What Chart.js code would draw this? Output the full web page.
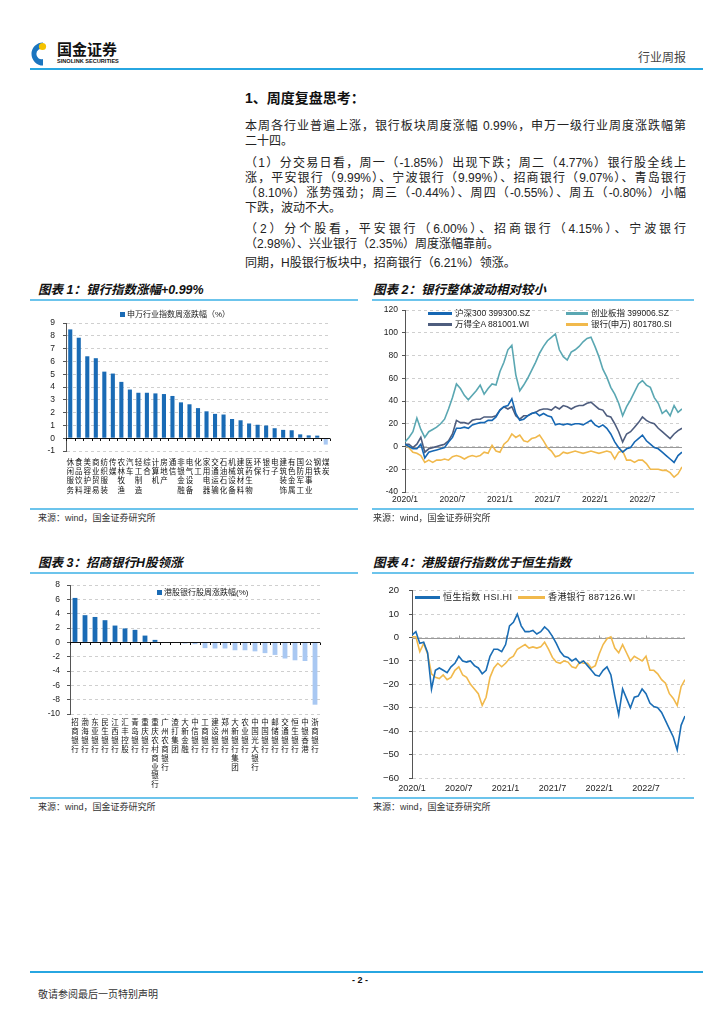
<!DOCTYPE html>
<html>
<head>
<meta charset="utf-8">
<script src="https://cdn.jsdelivr.net/npm/chart.js@4.4.1/dist/chart.umd.min.js"></script>
<style>
body{margin:0;width:724px;height:1024px;background:#fff;position:relative;overflow:hidden;
  font-family:"Liberation Sans","Noto Sans CJK SC",sans-serif;color:#222}
.abs{position:absolute;white-space:nowrap}
.bar{position:absolute;height:2px;background:#6cc4ec}
.ct{position:absolute;font-size:12.5px;line-height:14px;font-weight:bold;font-style:italic;white-space:nowrap;color:#111}
.src{position:absolute;font-size:9px;line-height:10px;color:#333;white-space:nowrap}
.p{position:absolute;left:245px;width:441px;font-size:12px;line-height:14px;color:#222}
.j{text-align:justify;text-align-last:justify}
canvas{position:absolute}
.lg{position:absolute;font-size:8.5px;line-height:10px;white-space:nowrap;color:#222}
.sw{position:absolute}
</style>
</head>
<body>

<!-- 页眉 -->
<svg class="abs" style="left:27px;top:40px" width="22" height="28" viewBox="0 0 22 28">
  <path d="M16 2.5 A11.5 11.5 0 1 0 16 25.5 L16 19 A5.2 5.2 0 1 1 16 9 Z" fill="#1b75bf"/>
  <circle cx="15.5" cy="6.5" r="3.6" fill="#f4c200"/>
</svg>
<div class="abs" style="left:57px;top:41px;font-size:15px;line-height:16px;font-weight:bold;color:#111;font-family:'Noto Sans CJK SC'">国金证券</div>
<div class="abs" style="left:57px;top:58px;font-size:5.6px;line-height:6px;font-weight:bold;color:#111">SINOLINK SECURITIES</div>
<div class="abs" style="right:38px;top:51px;font-size:12px;line-height:14px;color:#444">行业周报</div>
<div class="abs" style="left:30px;top:68px;width:673px;height:1.5px;background:#27a6e1"></div>

<!-- 正文 -->
<div class="abs" style="left:245px;top:90px;font-size:14px;line-height:16px;font-weight:bold;color:#111">1、周度复盘思考：</div>
<div class="p j" style="top:119px">本周各行业普遍上涨，银行板块周度涨幅 0.99%，申万一级行业周度涨跌幅第</div>
<div class="p" style="top:134px">二十四。</div>
<div class="p j" style="top:156px">（1）分交易日看，周一（-1.85%）出现下跌；周二（4.77%）银行股全线上</div>
<div class="p j" style="top:171px">涨，平安银行（9.99%）、宁波银行（9.99%）、招商银行（9.07%）、青岛银行</div>
<div class="p j" style="top:186px">（8.10%）涨势强劲；周三（-0.44%）、周四（-0.55%）、周五（-0.80%）小幅</div>
<div class="p" style="top:201px">下跌，波动不大。</div>
<div class="p j" style="top:222px">（2）分个股看，平安银行（6.00%）、招商银行（4.15%）、宁波银行</div>
<div class="p" style="top:237px">（2.98%）、兴业银行（2.35%）周度涨幅靠前。</div>
<div class="p" style="top:256px">同期，H股银行板块中，招商银行（6.21%）领涨。</div>

<!-- 图表1 -->
<div class="ct" style="left:38px;top:283px">图表 1：银行指数涨幅+0.99%</div>
<div class="bar" style="left:30px;top:299px;width:328px"></div>
<canvas id="c1" width="328" height="200" style="left:30px;top:305px"></canvas>
<div class="sw" style="left:120px;top:312px;width:5px;height:5px;background:#1a6bb5"></div>
<div class="lg" style="left:127px;top:310px;font-size:8px">申万行业指数周涨跌幅（%）</div>
<div class="bar" style="left:30px;top:508px;width:328px"></div>
<div class="src" style="left:38px;top:513px">来源：wind，国金证券研究所</div>

<!-- 图表2 -->
<div class="ct" style="left:373px;top:283px">图表 2：银行整体波动相对较小</div>
<div class="bar" style="left:372px;top:299px;width:322px"></div>
<canvas id="c2" width="330" height="210" style="left:365px;top:300px"></canvas>
<div class="sw" style="left:428px;top:312px;width:24px;height:2.5px;background:#1667b3"></div>
<div class="lg" style="left:455px;top:308px">沪深300 399300.SZ</div>
<div class="sw" style="left:566px;top:312px;width:22px;height:2.5px;background:#5aa7b2"></div>
<div class="lg" style="left:591px;top:308px">创业板指 399006.SZ</div>
<div class="sw" style="left:428px;top:323px;width:24px;height:2.5px;background:#4e5d7e"></div>
<div class="lg" style="left:455px;top:319px">万得全A 881001.WI</div>
<div class="sw" style="left:566px;top:323px;width:22px;height:2.5px;background:#f1b94c"></div>
<div class="lg" style="left:591px;top:319px">银行(申万) 801780.SI</div>
<div class="bar" style="left:372px;top:508px;width:322px"></div>
<div class="src" style="left:373px;top:513px">来源：wind，国金证券研究所</div>

<!-- 图表3 -->
<div class="ct" style="left:38px;top:556px">图表 3：招商银行H股领涨</div>
<div class="bar" style="left:30px;top:572px;width:328px"></div>
<canvas id="c3" width="328" height="222" style="left:30px;top:573px"></canvas>
<div class="sw" style="left:157px;top:590px;width:5px;height:5px;background:#1a6bb5"></div>
<div class="lg" style="left:164px;top:588px;font-size:8px">港股银行股周涨跌幅(%)</div>
<div class="bar" style="left:30px;top:797px;width:328px"></div>
<div class="src" style="left:38px;top:802px">来源：wind，国金证券研究所</div>

<!-- 图表4 -->
<div class="ct" style="left:373px;top:556px">图表 4：港股银行指数优于恒生指数</div>
<div class="bar" style="left:372px;top:572px;width:322px"></div>
<canvas id="c4" width="330" height="222" style="left:365px;top:575px"></canvas>
<div class="sw" style="left:415px;top:596px;width:25px;height:2.5px;background:#1a6db5"></div>
<div class="lg" style="left:443px;top:592px;font-size:9px;letter-spacing:0.4px">恒生指数 HSI.HI</div>
<div class="sw" style="left:518px;top:596px;width:27px;height:2.5px;background:#f1b94c"></div>
<div class="lg" style="left:548px;top:592px;font-size:9px;letter-spacing:0.4px">香港银行 887126.WI</div>
<div class="bar" style="left:372px;top:797px;width:322px"></div>
<div class="src" style="left:373px;top:802px">来源：wind，国金证券研究所</div>

<!-- 页脚 -->
<div class="abs" style="left:30px;top:971px;width:673px;height:1.5px;background:#27a6e1"></div>
<div class="abs" style="left:352px;top:975px;font-size:9px;line-height:10px;font-weight:bold;color:#111">- 2 -</div>
<div class="abs" style="left:38px;top:989px;font-size:10px;line-height:12px;color:#333">敬请参阅最后一页特别声明</div>

<script>
// 图表1：申万一级行业周涨跌幅
const swCats = ['休闲服务','食品饮料','美容护理','商业贸易','纺织服装','传媒','农林牧渔','汽车','轻工制造','综合',
  '计算机','房地产','通信','非银金融','电气设备','化工','家用电器','交通运输','石油石化','机械设备',
  '建筑材料','医药生物','环保','银行','电子','建筑装饰','有色金属','国防军工','公用事业','钢铁','煤炭'];
const swVals = [8.5,7.85,6.4,6.25,5.2,5.05,4.4,3.8,3.55,3.55,3.5,3.45,3.3,2.8,2.65,2.35,2.1,1.9,1.85,1.5,
  1.4,1.15,1.05,0.99,0.78,0.65,0.62,0.3,0.22,0.2,-0.5];

// 图表3：港股银行股周涨跌幅
const hkCats = ['招商银行','渤海银行','东亚银行','民生银行','江西银行','汇丰控股','青岛银行','重庆银行','重庆农村商业银行',
  '广州农商银行','渣打集团','大新金融','中信银行','工商银行','建设银行','郑州银行','大新银行集团','农业银行',
  '中国光大银行','中国银行','邮储银行','交通银行','恒生银行','中银香港','浙商银行'];
const hkVals = [6.21,3.8,3.55,3.1,2.35,1.95,1.75,0.95,0.35,0,-0.05,-0.15,-0.25,-0.8,-0.85,-0.85,-1.1,-1.1,
  -1.25,-1.5,-1.75,-2.25,-2.5,-2.6,-8.7];

// 时间轴：2020/1 起，每半个月一个点（单位：月）
const halfMonths = [];
for (let i = 0; i <= 70; i++) halfMonths.push(i / 2);

// 图表2：累计涨跌幅（%）
const hs300 = [2,0,-2,-2,2,-10,-5,-4,-3,-2, -1,4,8,16,16,17,16,19,20,21, 21,23,23,26,32,35,36,42,29,23,
  24,27,29,30,27,29,27,26,19,20, 19,20,19,20,20,19,21,23,19,17, 19,16,11,4,-1,-5,-2,-1,4,7,
  10,5,2,-1,-2,-5,-8,-11,-14,-8, -5];
const cyb = [4,8,13,25,15,8,13,15,17,20, 24,33,43,55,51,45,41,45,49,54, 46,51,55,54,66,74,85,89,63,49,
  54,60,67,74,82,88,93,96,99,85, 79,76,83,85,88,92,95,96,88,79, 68,61,52,46,38,27,35,41,48,55,
  58,54,52,43,38,29,32,27,36,30, 33];
const windA = [2,2,-1,2,8,-5,-2,-1,0,1, 2,5,11,23,21,21,20,23,24,24, 26,26,26,27,32,35,33,35,27,24,
  27,27,29,30,32,33,33,32,35,33, 36,35,33,35,36,36,38,39,36,33, 32,27,26,20,13,4,11,13,17,21,
  26,23,21,20,16,13,10,7,11,14, 16];
const bankSW = [2,-1,-5,-6,-8,-14,-12,-14,-12,-12, -11,-12,-9,-8,-9,-11,-9,-8,-9,-8, -5,-6,1,-4,-5,2,5,11,8,10,
  5,4,7,8,10,5,-1,-4,-9,-8, -5,-6,-5,-4,-5,-6,-5,-4,-5,-6, -5,-4,-5,-11,-5,-4,-12,-12,-14,-12,
  -12,-15,-20,-20,-20,-21,-21,-23,-27,-24, -18];

// 图表4：累计涨跌幅（%）
const hsi = [1,2.5,-2.5,-2,-6.5,-22,-14,-13,-14,-15, -12.5,-11,-8,-10,-10.5,-10,-12,-13,-15.5,-14,
  -8,-5,-5,-6,-3,5,6.5,10,5,2.5, 2.5,3,1.5,2.5,4.5,3,0.5,-2.5,-6,-8, -8.5,-10,-9,-11,-10,-12,-14,-16,-16.5,-14,
  -12.5,-16,-25,-33,-22,-26,-30,-25.5,-25,-22, -24,-28,-29.5,-30,-32,-35.5,-39,-42.5,-48,-37.5, -33.5];
const hkBank = [0.3,0.3,-6,-2.5,-7,-15.5,-17,-17.5,-16,-18, -17,-14,-12.5,-16,-17,-20,-22,-24,-29,-25.5,
  -17,-13,-11,-12.5,-11,-9,-8,-5,-4,-3, -4.5,-4,-4.5,-4,-2,-5,-8.5,-10.5,-11,-10, -10.5,-12.5,-13,-10.5,-11,-11,-13,-12,-7,-3,
  -0.5,0.3,-4.5,-6.5,-3,-6.5,-10,-8,-9,-10, -8,-14,-14,-15.5,-18,-19.5,-24,-26,-29,-21, -18];

const DARK = '#1a6bb5', LIGHT = '#a9c8f2';
const numFont = {family: 'Liberation Sans', size: 8.5};

// 零轴实线 + 小刻度
function drawZero(chart, o) {
  const {ctx, chartArea: a, scales: {x, y}} = chart;
  const py = Math.round(y.getPixelForValue(0)) + 0.5;
  ctx.save();
  ctx.strokeStyle = o.color;
  ctx.lineWidth = 1;
  ctx.beginPath();
  ctx.moveTo(a.left, py);
  ctx.lineTo(a.right, py);
  let xs = [];
  if (o.between) {
    const half = (x.getPixelForValue(1) - x.getPixelForValue(0)) / 2;
    for (let i = 0; i <= x.getLabels().length; i++) xs.push(x.getPixelForValue(i) - half);
  } else if (o.at) {
    xs = o.at.map(v => x.getPixelForValue(v));
  }
  xs.forEach(px => {
    px = Math.round(px) + 0.5;
    ctx.moveTo(px, py);
    ctx.lineTo(px, py + o.tick);
  });
  ctx.stroke();
  ctx.restore();
}
const zeroLine = {
  id: 'zeroLine',
  beforeDatasetsDraw(chart, args, o) { if (!o.front) drawZero(chart, o); },
  afterDatasetsDraw(chart, args, o) { if (o.front) drawZero(chart, o); }
};

function yAxis(min, max, step, w, pad, fmt, font) {
  return {
    min: min, max: max,
    afterFit: s => { s.width = w; },
    ticks: {stepSize: step, autoSkip: false, padding: pad, color: '#222', font: font || numFont, callback: fmt || (v => v)},
    grid: {color: '#cfcfcf', tickColor: '#555', tickLength: 3},
    border: {display: true, color: '#555', width: 1, dash: [3, 3]}
  };
}

function barChart(id, cats, vals, y, xh, xpad, font, padding) {
  new Chart(document.getElementById(id), {
    type: 'bar',
    data: {
      labels: cats.map(s => s.split('')),
      datasets: [{
        data: vals,
        backgroundColor: vals.map(v => v >= 0 ? DARK : LIGHT),
        barPercentage: 0.48,
        categoryPercentage: 1
      }]
    },
    options: {
      responsive: false, animation: false,
      layout: {padding: padding},
      plugins: {legend: {display: false}, tooltip: {enabled: false},
        zeroLine: {color: '#111', between: true, tick: 2.5, front: true}},
      scales: {
        x: {
          afterFit: s => { s.height = xh; },
          grid: {display: false, drawTicks: false},
          border: {display: false},
          ticks: {autoSkip: false, maxRotation: 0, minRotation: 0, padding: xpad, color: '#111', font: font}
        },
        y: y
      }
    },
    plugins: [zeroLine]
  });
}

barChart('c1', swCats, swVals, yAxis(-1, 9, 1, 36, 8), 54, 6,
  {family: 'Noto Sans CJK SC', size: 7.5, lineHeight: 1.25}, {top: 18, right: 28, left: 0, bottom: 0});
barChart('c3', hkCats, hkVals, yAxis(-10, 8, 2, 40, 7), 81, 4,
  {family: 'Noto Sans CJK SC', size: 7.5, lineHeight: 1.18}, {top: 7, right: 38, left: 0, bottom: 0});

function monthLabel(v) { return (2020 + Math.floor(v / 12)) + '/' + (v % 12 + 1); }

function lineChart(id, sets, y, xh, xpad, padding, zero, xfont) {
  new Chart(document.getElementById(id), {
    type: 'line',
    data: {
      labels: halfMonths,
      datasets: sets.map(s => ({
        label: s[0], data: s[1], borderColor: s[2], borderWidth: 1.6,
        pointRadius: 0, tension: 0, fill: false
      }))
    },
    options: {
      responsive: false, animation: false,
      layout: {padding: padding},
      plugins: {legend: {display: false}, tooltip: {enabled: false}, zeroLine: zero},
      scales: {
        x: {
          type: 'linear', min: 0, max: 35,
          afterFit: s => { s.height = xh; },
          grid: {display: false, drawTicks: false},
          border: {display: false},
          ticks: {stepSize: 6, includeBounds: false, autoSkip: false, maxRotation: 0, padding: xpad,
            color: '#222', font: xfont || numFont, callback: monthLabel}
        },
        y: y
      }
    },
    plugins: [zeroLine]
  });
}

lineChart('c2', [
  ['沪深300 399300.SZ', hs300, '#1667b3'],
  ['创业板指 399006.SZ', cyb, '#5aa7b2'],
  ['万得全A 881001.WI', windA, '#4e5d7e'],
  ['银行(申万) 801780.SI', bankSW, '#f1b94c']
], yAxis(-40, 120, 20, 40, 4), 18, 3, {top: 10, right: 13, left: 0, bottom: 0},
  {color: '#999', tick: 0});

lineChart('c4', [
  ['恒生指数 HSI.HI', hsi, '#1a6db5'],
  ['香港银行 887126.WI', hkBank, '#f1b94c']
], yAxis(-60, 20, 10, 47, 10, v => v < 0 ? '\u2212' + Math.abs(v) : v, {family: 'Liberation Sans', size: 9.5}),
  19, 5, {top: 7, right: 10, left: 0, bottom: 0},
  {color: '#999', at: [6, 12, 18, 24, 30], tick: -3}, {family: 'Liberation Sans', size: 9});
</script>
</body>
</html>
